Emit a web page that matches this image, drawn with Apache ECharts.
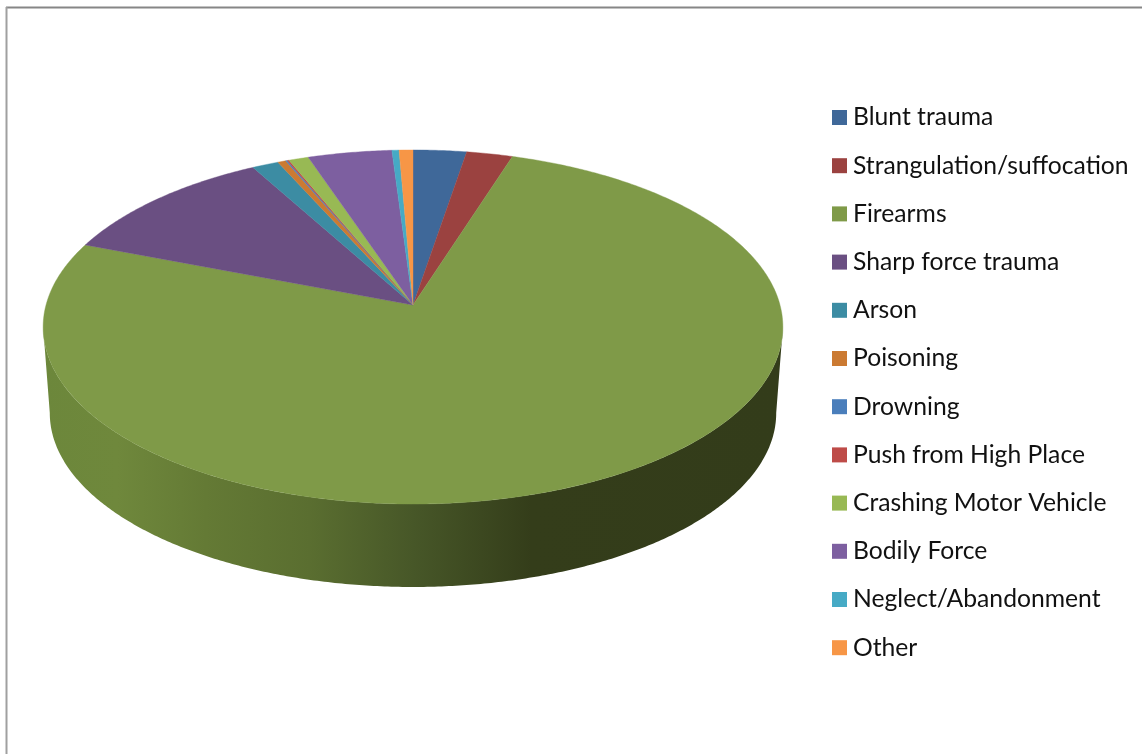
<!DOCTYPE html>
<html>
<head>
<meta charset="utf-8">
<style>html,body{margin:0;padding:0;background:#fff}#c{width:1142px;height:754px}</style>
<script src="https://cdn.jsdelivr.net/npm/echarts@6/dist/echarts.min.js"></script>
</head>
<body>
<div id="c"></div>
<script>
const categories = ['Blunt trauma','Strangulation/suffocation','Firearms','Sharp force trauma','Arson','Poisoning','Drowning','Push from High Place','Crashing Motor Vehicle','Bodily Force','Neglect/Abandonment','Other'];
const values = [2.63,2.27,75.96,11.11,1.31,0.40,0.08,0.09,0.98,4.14,0.35,0.68];
const colors = ['#3f6899','#9b4240','#7f9a48','#6a4f82','#3c8ca3','#cb7a32','#4a7ebb','#be4b48','#98b954','#7d5fa0','#46aac5','#f79646'];

// projection of the tilted disc
const cx = 413, cyTop = 305, B = 367, A = 174.3, k = 0.1243;
const depthY = 86.5, depthScale = 0.982;
const total = values.reduce((a, b) => a + b, 0);
const starts = [];
values.reduce((acc, v, i) => { starts[i] = acc; return acc + v; }, 0);

function rim(deg, bottom) {
  const t = deg * Math.PI / 180, d = 1 + k * Math.cos(t), s = bottom ? depthScale : 1;
  return [cx + s * B * Math.sin(t) / d, cyTop + (bottom ? depthY : 0) - s * A * Math.cos(t) / d];
}
function arc(a0, a1, bottom) {
  const n = Math.max(1, Math.ceil((a1 - a0) / 0.5)), pts = [];
  for (let i = 0; i <= n; i++) pts.push(rim(a0 + (a1 - a0) * i / n, bottom));
  return pts;
}
const frontFrom = Math.acos(-k) * 180 / Math.PI, frontTo = 360 - frontFrom;
const sideFill = new echarts.graphic.LinearGradient(43, 0, 783, 0, [
  {offset: 0, color: '#6c873b'}, {offset: 0.10, color: '#6f883c'}, {offset: 0.22, color: '#647a35'},
  {offset: 0.36, color: '#5a6e30'}, {offset: 0.50, color: '#475728'}, {offset: 0.66, color: '#343d1a'},
  {offset: 1, color: '#333c1a'}
], true);

function makeRender(i) {
  return function (params, api) {
    const a0 = starts[i] / total * 360, a1 = a0 + api.value(0) / total * 360;
    const children = [];
    const s0 = Math.max(a0, frontFrom), s1 = Math.min(a1, frontTo);
    if (s1 > s0) {
      children.push({type: 'polygon', shape: {points: arc(s0, s1, false).concat(arc(s0, s1, true).reverse())},
        style: {fill: sideFill}});
    }
    children.push({type: 'polygon', shape: {points: [[cx, cyTop]].concat(arc(a0, a1, false))},
      style: {fill: colors[i], stroke: colors[i], lineWidth: 0.4}});
    return {type: 'group', children};
  };
}

const chart = echarts.init(document.getElementById('c'), null, {renderer: 'canvas'});
chart.setOption({
  animation: false,
  backgroundColor: '#ffffff',
  legend: {
    orient: 'vertical', left: 832, top: 103.5, padding: 0, icon: 'rect', itemWidth: 15, itemHeight: 15, itemGap: 20.2,
    selectedMode: false, data: categories,
    textStyle: {fontFamily: 'Lato', fontSize: 24.7, lineHeight: 28, color: '#111111', padding: [0, 0, 0, 1]}
  },
  graphic: [
    {type: 'line', shape: {x1: 6, y1: 7.5, x2: 1142, y2: 7.5}, style: {stroke: '#868686', lineWidth: 2}},
    {type: 'line', shape: {x1: 6.5, y1: 7, x2: 6.5, y2: 754}, style: {stroke: '#a0a0a0', lineWidth: 2}}
  ],
  series: categories.map((name, i) => ({
    type: 'custom', name, coordinateSystem: 'none', itemStyle: {color: colors[i]},
    data: [[values[i]]], renderItem: makeRender(i), silent: true
  }))
});
</script>
</body>
</html>
